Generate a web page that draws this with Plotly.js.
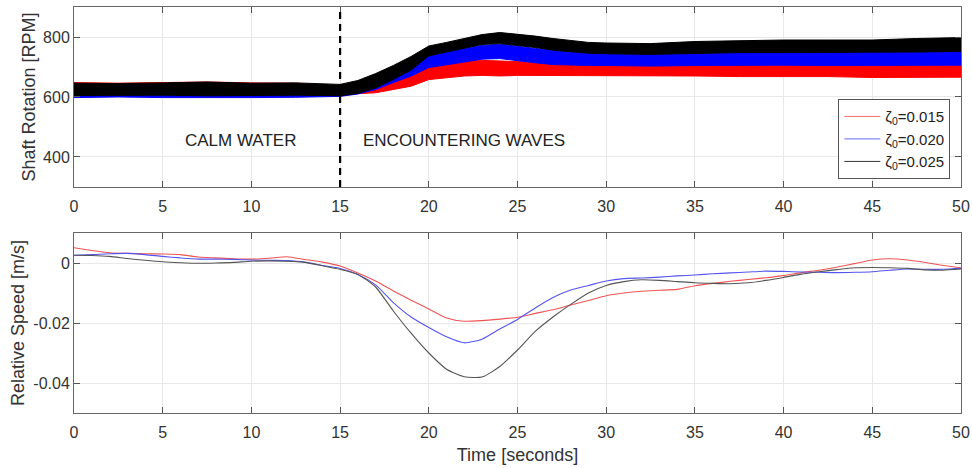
<!DOCTYPE html>
<html>
<head>
<meta charset="utf-8">
<script src="https://cdn.plot.ly/plotly-3.0.1.min.js"></script>
<style>html,body{margin:0;padding:0;background:#fff;}#chart{width:972px;height:468px;}</style>
</head>
<body>
<div id="chart"></div>
<script>
// ---- Top panel: shaft rotation envelopes (RPM) ----
const tTop = [0,2.5,5,7.5,10,12.5,15,16,17,18,19,20,21,22,23,24,25,26,27,28,29,30,32.5,35,37.5,40,42.5,45,47.5,50];
const redUpper   = [648,646,648,650,647,646,636,638,645,658,675,703,712,722,722,720,718,716,713,710,708,708,706,708,707,708,706,708,706,706];
const redLower   = [612,612,613,612,611,612,608,610,614,625,636,658,665,670,672,670,672,672,672,672,672,671,670,670,668,668,668,665,666,666];
const blueUpper  = [636,634,636,635,634,635,632,645,662,685,708,742,752,762,772,776,768,762,755,752,750,750,748,750,752,752,750,752,752,752];
const blueLower  = [598,600,598,597,598,599,602,610,625,648,670,698,708,716,726,728,720,714,708,706,705,705,703,705,706,706,705,706,706,706];
const blackUpper = [646,645,647,650,646,647,642,655,678,705,735,770,782,795,808,815,810,803,795,788,782,780,778,785,788,790,790,790,795,798];
const blackLower = [605,606,606,604,605,606,604,612,630,658,690,737,750,762,775,778,772,765,756,750,746,744,742,745,748,748,748,748,750,752];

// ---- Bottom panel: relative speed (m/s) ----
const tBot = [0,1,2,3,4,5,6,7,8,9,10,11,12,13,14,15,16,17,18,19,20,21,22,23,24,25,26,27,28,29,30,31,32,33,34,35,36,37,38,39,40,41,42,43,44,45,46,47,48,49,50];
const speedRed = [0.0051,0.0042,0.0034,0.0032,0.0031,0.0030,0.0028,0.0020,0.0017,0.0014,0.0013,0.0016,0.0021,0.0012,0.0003,-0.0010,-0.0033,-0.0060,-0.0093,-0.0124,-0.0153,-0.0183,-0.0194,-0.0192,-0.0187,-0.0181,-0.0168,-0.0156,-0.0140,-0.0125,-0.0109,-0.0100,-0.0094,-0.0091,-0.0088,-0.0076,-0.0068,-0.0061,-0.0055,-0.0049,-0.0042,-0.0032,-0.0024,-0.0014,-0.0002,0.0010,0.0014,0.0010,0.0002,-0.0008,-0.0016];
const speedBlue = [0.0026,0.0028,0.0031,0.0032,0.0028,0.0022,0.0017,0.0013,0.0013,0.0012,0.0010,0.0009,0.0008,0.0003,-0.0008,-0.0018,-0.0038,-0.0073,-0.0132,-0.0180,-0.0215,-0.0246,-0.0266,-0.0254,-0.0220,-0.0188,-0.0150,-0.0115,-0.0090,-0.0075,-0.0060,-0.0052,-0.0050,-0.0047,-0.0043,-0.0040,-0.0036,-0.0033,-0.0030,-0.0027,-0.0028,-0.0030,-0.0031,-0.0032,-0.0031,-0.0029,-0.0024,-0.0020,-0.0021,-0.0021,-0.0018];
const speedBlack = [0.0026,0.0025,0.0022,0.0015,0.0009,0.0004,0.0001,-0.0001,0.0000,0.0002,0.0006,0.0007,0.0006,0.0002,-0.0009,-0.0021,-0.0038,-0.0080,-0.0160,-0.0234,-0.0300,-0.0354,-0.0379,-0.0380,-0.0345,-0.0290,-0.0228,-0.0180,-0.0138,-0.0100,-0.0075,-0.0062,-0.0056,-0.0058,-0.0062,-0.0066,-0.0068,-0.0069,-0.0066,-0.0058,-0.0048,-0.0037,-0.0029,-0.0022,-0.0016,-0.0015,-0.0016,-0.0018,-0.0023,-0.0024,-0.0020];

const seriesNames = ['ζ<sub>0</sub>=0.015','ζ<sub>0</sub>=0.020','ζ<sub>0</sub>=0.025'];
const xTicks = [0,5,10,15,20,25,30,35,40,45,50];
const topTicks = [400,600,800];
const botTicks = [-0.04,-0.02,0];
const botTickText = ['-0.04','-0.02','0'];
const calmLabel = 'CALM WATER';
const wavesLabel = 'ENCOUNTERING WAVES';

const bandColors = ['#ff0000','#0000ff','#000000'];
const legendColors = ['#f26a6a','#6a6af2','#333333'];
const lineColors = ['#ef5555','#5555ef','#555555'];

const uppers = [redUpper, blueUpper, blackUpper];
const lowers = [redLower, blueLower, blackLower];
const speeds = [speedRed, speedBlue, speedBlack];

const FONT = 'Liberation Sans, Arial, sans-serif';
const traces = [];
for (let i = 0; i < 3; i++) {
  traces.push({x: tTop, y: uppers[i], type: 'scatter', mode: 'lines', name: seriesNames[i],
    line: {color: bandColors[i], width: 1}, xaxis: 'x', yaxis: 'y', showlegend: false, hoverinfo: 'skip'});
  traces.push({x: tTop, y: lowers[i], type: 'scatter', mode: 'lines', fill: 'tonexty', fillcolor: bandColors[i],
    line: {color: bandColors[i], width: 1}, xaxis: 'x', yaxis: 'y', showlegend: false, hoverinfo: 'skip'});
}
for (let i = 0; i < 3; i++) {
  traces.push({x: tBot, y: speeds[i], type: 'scatter', mode: 'lines', name: seriesNames[i],
    line: {color: lineColors[i], width: 1.1, shape: 'spline', smoothing: 0.6}, xaxis: 'x2', yaxis: 'y2', showlegend: false});
}
// legend entries (legend sits in the top panel)
for (let i = 0; i < 3; i++) {
  traces.push({x: [null], y: [null], type: 'scatter', mode: 'lines', name: seriesNames[i],
    line: {color: legendColors[i], width: 1}, xaxis: 'x', yaxis: 'y', showlegend: true});
}

const axFont = {family: FONT, size: 16, color: '#333'};
const titleFont = {family: FONT, size: 18, color: '#333'};
const xBase = {range: [0, 50], tickvals: xTicks, ticks: 'inside', ticklen: 6, tickcolor: '#555',
  showline: true, linecolor: '#666', linewidth: 1, mirror: 'ticks', showgrid: true, gridcolor: '#e8e8e8',
  zeroline: false, tickfont: axFont, fixedrange: true, ticklabelstandoff: 5};

const layout = {
  width: 972, height: 468,
  margin: {l: 74, r: 11, t: 7, b: 55},
  paper_bgcolor: '#fff', plot_bgcolor: '#fff',
  font: {family: FONT, color: '#333'},
  showlegend: true,
  legend: {x: 0.988, xanchor: 'right', y: 0.773, yanchor: 'top', bgcolor: '#fff', bordercolor: '#555', borderwidth: 1,
    font: {family: FONT, size: 15, color: '#222'}, itemwidth: 36, tracegroupgap: 0, traceorder: 'normal'},
  xaxis: Object.assign({}, xBase, {anchor: 'y', domain: [0, 1]}),
  yaxis: {anchor: 'x', domain: [0.5567, 1], range: [300, 900], tickvals: topTicks, ticks: 'inside', ticklen: 6, tickcolor: '#555',
    showline: true, linecolor: '#666', linewidth: 1, mirror: 'ticks', showgrid: true, gridcolor: '#e8e8e8', zeroline: false,
    tickfont: axFont, fixedrange: true,
    title: {text: 'Shaft Rotation [RPM]', font: titleFont, standoff: 2}},
  xaxis2: Object.assign({}, xBase, {anchor: 'y2', domain: [0, 1],
    title: {text: 'Time [seconds]', font: titleFont, standoff: 8}}),
  yaxis2: {anchor: 'x2', domain: [0, 0.4433], range: [-0.05, 0.01], tickvals: botTicks, ticktext: botTickText, ticks: 'inside', ticklen: 6, tickcolor: '#555',
    showline: true, linecolor: '#666', linewidth: 1, mirror: 'ticks', showgrid: true, gridcolor: '#e8e8e8', zeroline: false,
    tickfont: axFont, fixedrange: true,
    title: {text: 'Relative Speed [m/s]', font: titleFont, standoff: 4}},
  shapes: [{type: 'line', xref: 'x', yref: 'y domain', x0: 15, x1: 15, y0: 0, y1: 1,
    line: {color: '#000', width: 2.2, dash: '7px,5px'}}],
  annotations: [
    {x: 9.36, y: 455, xref: 'x', yref: 'y', text: calmLabel, showarrow: false,
      font: {family: FONT, size: 17, color: '#222'}},
    {x: 22.0, y: 455, xref: 'x', yref: 'y', text: wavesLabel, showarrow: false,
      font: {family: FONT, size: 17, color: '#222'}}
  ]
};

Plotly.newPlot('chart', traces, layout, {staticPlot: true, displayModeBar: false});
</script>
</body>
</html>
